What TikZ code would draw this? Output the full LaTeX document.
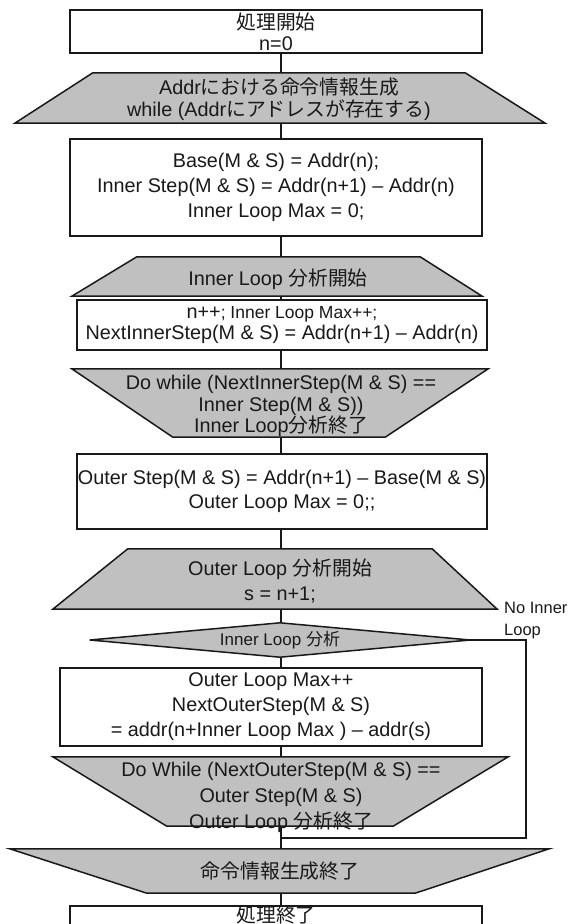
\documentclass[tikz,border=0pt]{standalone}
\usepackage{fontspec}
\setmainfont{Liberation Sans}
\newfontfamily\jpf{Noto Sans CJK JP}
\newcommand\J[1]{{\jpf #1}}
\usetikzlibrary{backgrounds}
\definecolor{shade}{RGB}{192,192,192}
\definecolor{ink}{RGB}{25,25,25}
\begin{document}
\begin{tikzpicture}[x=1pt,y=-1pt,
  frame/.style={draw=ink, line width=1.5pt, fill=white, inner sep=0pt, align=center, text=ink},
  holder/.style={inner sep=0pt, draw=none},
  shapeln/.style={draw=ink, line width=1.5pt, fill=shade, line join=miter},
  txt/.style={inner sep=0pt, align=center, text=ink},
  conn/.style={draw=ink, line width=1.4pt},
  fs/.style={font=\fontsize{19.8}{#1}\selectfont},
]
\useasboundingbox (0,0) rectangle (570,924);
\coordinate (sp) at (281,0);

% box 1
\node[frame, minimum width=412pt, minimum height=43pt, fs=21] (b1) at (276,31.5) {\J{処理開始}\\n=0};

% trapezium 1
\node[holder, minimum width=530pt, minimum height=50pt] (t1) at (280,98) {};
\node[txt, fs=22] (t1t) at (279,99) {Addr\J{における命令情報生成}\\while (Addr\J{にアドレスが存在する})};

% box 2
\node[frame, minimum width=412pt, minimum height=97pt, fs=25] (b2) at (276,187.5) {Base(M \& S) = Addr(n);\\Inner Step(M \& S) = Addr(n+1) – Addr(n)\\Inner Loop Max = 0;};

% trapezium 2
\node[holder, minimum width=410pt, minimum height=39pt] (t2) at (277,276.5) {};
\node[txt, fs=22] (t2t) at (278,279) {Inner Loop \J{分析開始}};

% box 3
\node[frame, minimum width=410pt, minimum height=50pt, fs=20.5] (b3) at (282,325) {n++{\fontsize{17.5}{20}\selectfont; Inner Loop Max++;}\\NextInnerStep(M \& S) = Addr(n+1) – Addr(n)};

% trapezium 3 (inverted)
\node[holder, minimum width=416pt, minimum height=68pt] (t3) at (280,403) {};
\node[txt, fs=21.5] (t3t) at (281,406) {Do while (NextInnerStep(M \& S) ==\\Inner Step(M \& S))\\Inner Loop\J{分析終了}};

% box 4
\node[frame, minimum width=410pt, minimum height=75pt, fs=24] (b4) at (282,491.5) {Outer Step(M \& S) = Addr(n+1) – Base(M \& S)\\Outer Loop Max = 0;;};

% trapezium 4
\node[holder, minimum width=444pt, minimum height=60pt] (t4) at (275,579) {};
\node[txt, fs=25] (t4t) at (280,581) {Outer Loop \J{分析開始}\\s = n+1;};

% decision
\node[holder, minimum width=380pt, minimum height=34pt] (dm) at (280,640) {};
\node[txt, font=\fontsize{17}{20}\selectfont] (dmt) at (280,640) {Inner Loop \J{分析}};

% box 5
\node[frame, minimum width=422pt, minimum height=78pt, fs=25] (b5) at (271,707) {Outer Loop Max++\\NextOuterStep(M \& S)\\= addr(n+Inner Loop Max ) – addr(s)};

% trapezium 5 (inverted)
\node[holder, minimum width=455pt, minimum height=69pt] (t5) at (280.5,791.5) {};
\node[txt, fs=26] (t5t) at (281,797) {Do While (NextOuterStep(M \& S) ==\\Outer Step(M \& S)\\Outer Loop \J{分析終了}};

% trapezium 6 (inverted)
\node[holder, minimum width=539pt, minimum height=44pt] (t6) at (279.5,871) {};
\node[txt, fs=22] (t6t) at (280,871) {\J{命令情報生成終了}};

% box 6
\node[frame, minimum width=412pt, minimum height=32pt] (b6) at (276,922) {};
\node[txt, fs=22] (b6t) at (276,915) {\J{処理終了}};

% side label
\node[txt, anchor=west, align=left, font=\fontsize{16.5}{22}\selectfont] (nil) at (504,621) {No Inner\\Loop};

\coordinate (lp) at (526,838);

\begin{scope}[on background layer]
\draw[shapeln] ([xshift=78pt]t1.north west) -- ([xshift=-80pt]t1.north east) -- (t1.south east) -- (t1.south west) -- cycle;
\draw[shapeln] ([xshift=65pt]t2.north west) -- ([xshift=-62pt]t2.north east) -- (t2.south east) -- (t2.south west) -- cycle;
\draw[shapeln] (t3.north west) -- (t3.north east) -- ([xshift=-103pt]t3.south east) -- ([xshift=101pt]t3.south west) -- cycle;
\draw[shapeln] ([xshift=75pt]t4.north west) -- ([xshift=-65pt]t4.north east) -- (t4.south east) -- (t4.south west) -- cycle;
\draw[shapeln] (dm.west) -- (dm.north) -- (dm.east) -- (dm.south) -- cycle;
\draw[shapeln] (t5.north west) -- (t5.north east) -- ([xshift=-115pt]t5.south east) -- ([xshift=114pt]t5.south west) -- cycle;
\draw[shapeln] (t6.north west) -- (t6.north east) -- ([xshift=-134pt]t6.south east) -- ([xshift=137pt]t6.south west) -- cycle;

\draw[conn] (b1.south -| sp) -- (t1.north -| sp);
\draw[conn] (t1.south -| sp) -- (b2.north -| sp);
\draw[conn] (b2.south -| sp) -- (t2.north -| sp);
\draw[conn] (t2.south -| sp) -- (b3.north -| sp);
\draw[conn] (b3.south -| sp) -- (t3.north -| sp);
\draw[conn] (t3.south -| sp) -- (b4.north -| sp);
\draw[conn] (b4.south -| sp) -- (t4.north -| sp);
\draw[conn] (t4.south -| sp) -- (dm.north -| sp);
\draw[conn] (dm.south -| sp) -- (b5.north -| sp);
\draw[conn] (b5.south -| sp) -- (t5.north -| sp);
\draw[conn] (t5.south -| sp) -- (t6.north -| sp);
\draw[conn] (t6.south -| sp) -- (b6.north -| sp);
\draw[conn] (dm.east) -| (lp) -- (lp -| sp);
\end{scope}
\end{tikzpicture}
\end{document}
